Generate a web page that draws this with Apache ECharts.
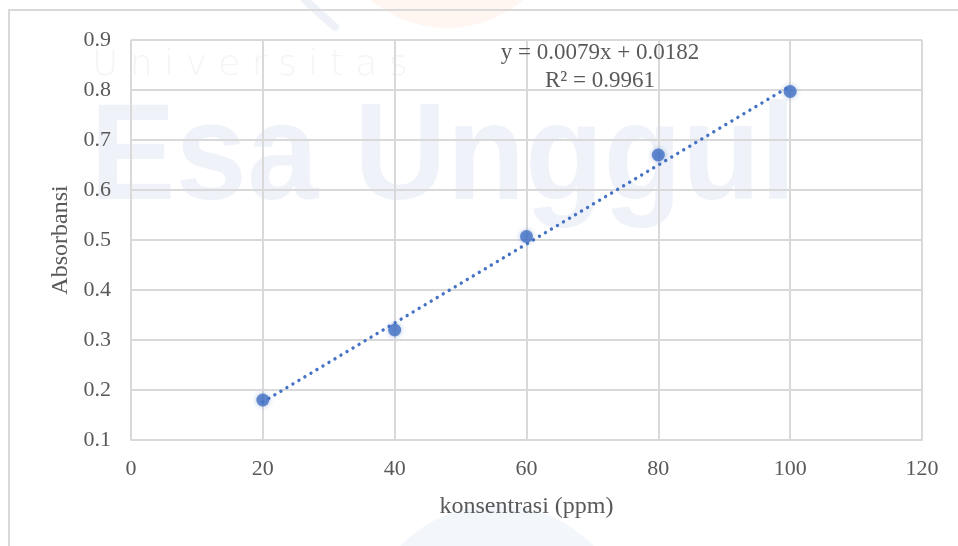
<!DOCTYPE html>
<html>
<head>
<meta charset="utf-8">
<script src="https://cdn.jsdelivr.net/npm/echarts@6/dist/echarts.min.js"></script>
<style>html,body{margin:0;padding:0;background:#fff;}#c{width:958px;height:546px;}</style>
</head>
<body>
<div id="c"></div>
<script>
// Data
const concentrations = [20, 40, 60, 80, 100];
const absorbances = [0.18, 0.32, 0.507, 0.67, 0.797];
// Linear trendline end points (from the displayed equation y = 0.0079x + 0.0182)
const trendX = [20, 100];
const trendY = [0.176, 0.808];
const equationLines = ['y = 0.0079x + 0.0182', 'R² = 0.9961'];
const xAxisTitle = 'konsentrasi (ppm)';
const yAxisTitle = 'Absorbansi';

const font = '"Liberation Serif", "Times New Roman", serif';
const textColor = '#595959';
const blue = '#4472C4';

const chart = echarts.init(document.getElementById('c'), null, {renderer: 'canvas'});
chart.setOption({
  animation: false,
  backgroundColor: '#ffffff',
  grid: {left: 131, right: 36, top: 40, bottom: 106, show: false},
  xAxis: {
    type: 'value', min: 0, max: 120, interval: 20,
    name: xAxisTitle, nameLocation: 'middle', nameGap: 55,
    nameTextStyle: {fontFamily: font, fontSize: 24, color: textColor},
    axisLine: {show: true, lineStyle: {color: '#d9d9d9', width: 2}},
    axisTick: {show: false},
    axisLabel: {fontFamily: font, fontSize: 22, color: textColor, margin: 18},
    splitLine: {show: true, lineStyle: {color: '#d9d9d9', width: 2}}
  },
  yAxis: {
    type: 'value', min: 0.1, max: 0.9, interval: 0.1,
    name: yAxisTitle, nameLocation: 'middle', nameGap: 57, nameRotate: 90,
    nameTextStyle: {fontFamily: font, fontSize: 24, color: textColor},
    axisLine: {show: false},
    axisTick: {show: false},
    axisLabel: {fontFamily: font, fontSize: 22, color: textColor, margin: 20,
      formatter: v => (Math.round(v * 10) / 10).toFixed(1)},
    splitLine: {show: true, lineStyle: {color: '#d9d9d9', width: 2}}
  },
  graphic: [
    {type: 'rect', z: -20, silent: true, shape: {x: 9, y: 10, width: 1000, height: 600},
      style: {fill: 'none', stroke: '#d9d9d9', lineWidth: 2}},
    {type: 'circle', z: -30, silent: true, shape: {cx: 447, cy: -90, r: 118},
      style: {fill: 'rgba(250,150,110,0.09)'}},
    {type: 'circle', z: -30, silent: true, shape: {cx: 497, cy: 640, r: 135},
      style: {fill: 'rgba(150,180,215,0.11)'}},
    {type: 'line', z: -30, silent: true, shape: {x1: 305, y1: 0, x2: 335, y2: 27},
      style: {stroke: 'rgba(150,175,210,0.16)', lineWidth: 8, lineCap: 'round'}},
    {type: 'text', z: -25, silent: true, x: 92, y: 48,
      style: {text: 'U n i v e r s i t a s', font: '300 36px "DejaVu Sans", sans-serif', fill: 'rgba(120,130,150,0.09)'}},
    {type: 'text', z: -25, silent: true, x: 90, y: 92, scaleX: 0.93,
      style: {text: 'Esa Unggul', font: 'bold 138px "Liberation Sans", Arial, sans-serif', fill: 'rgba(110,150,200,0.11)'}},
    {type: 'text', z: 50, silent: true, x: 600, y: 67,
      style: {text: equationLines.join('\n'), textAlign: 'center', textVerticalAlign: 'middle',
        font: '23px ' + font, fill: textColor, lineHeight: 28}}
  ],
  series: [
    {
      type: 'line', name: 'trend',
      data: trendX.map((x, i) => [x, trendY[i]]),
      showSymbol: false, symbol: 'none', silent: true, z: 3,
      lineStyle: {color: blue, width: 3.4, type: [0.01, 7], cap: 'round'}
    },
    {
      type: 'scatter', name: 'data',
      data: concentrations.map((x, i) => [x, absorbances[i]]),
      symbol: 'circle', symbolSize: 13, z: 4,
      itemStyle: {color: blue, shadowBlur: 5, shadowColor: 'rgba(68,114,196,0.55)'}
    }
  ]
});
</script>
</body>
</html>
